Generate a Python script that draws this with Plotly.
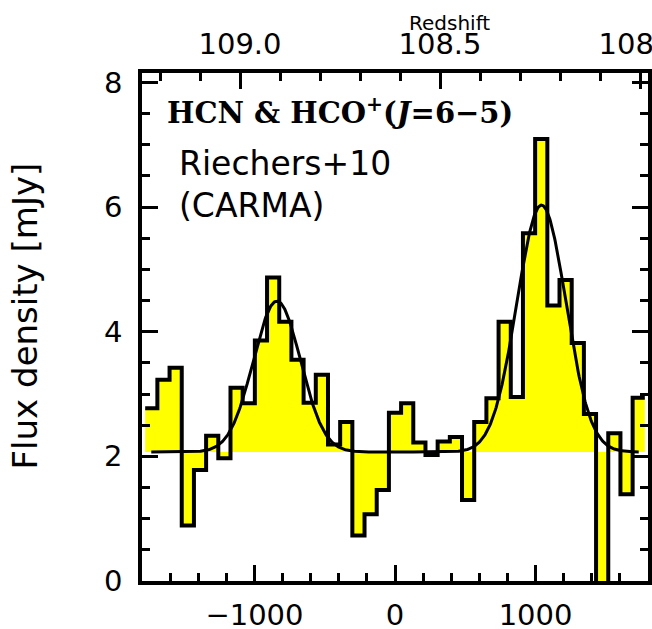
import numpy as np
import plotly.graph_objects as go

# Spectrum: channel grid (km/s) and flux density per channel (mJy)
channel_width = 86.7
channel_index = np.arange(-20, 21)
flux = [2.77, 3.23, 3.42, 0.89, 1.78, 2.33, 1.97, 3.10, 2.85, 3.86,
        4.87, 4.16, 3.55, 2.86, 3.31, 2.19, 2.55, 0.73, 1.07, 1.46,
        2.70, 2.85, 2.22, 2.02, 2.24, 2.31, 1.30, 2.55, 2.93, 4.16,
        2.95, 5.58, 7.09, 4.42, 4.83, 3.82, 2.68, -0.40, 2.37, 1.39,
        2.94]

# Two-Gaussian fit on a flat continuum
continuum = 2.07
line_center = [-840.0, 1042.0]
line_peak = [2.42, 3.96]
line_fwhm = [395.0, 410.0]

# Axis ticks
vel_ticks = [-1000, 0, 1000]
y_ticks = [0, 2, 4, 6, 8]
z_ticks = [109.0, 108.5, 108.0]

velocity = channel_index * channel_width
edges = np.append(velocity - channel_width / 2, velocity[-1] + channel_width / 2)
step_x = np.repeat(edges, 2)[1:-1]
step_y = np.repeat(np.asarray(flux), 2)

v_fit = np.linspace(velocity[0], velocity[-1], 900)
model = np.full_like(v_fit, continuum)
for c, a, w in zip(line_center, line_peak, line_fwhm):
    s = w / (2 * np.sqrt(2 * np.log(2)))
    model += a * np.exp(-0.5 * ((v_fit - c) / s) ** 2)

fig = go.Figure()
# continuum baseline used as the lower edge of the fill
fig.add_trace(go.Scatter(x=[edges[0], edges[-1]], y=[continuum, continuum],
                         mode="lines", line=dict(width=0, color="rgba(0,0,0,0)"),
                         hoverinfo="skip", showlegend=False))
fig.add_trace(go.Scatter(x=step_x, y=step_y, mode="lines", fill="tonexty",
                         fillcolor="#ffff00", line=dict(width=0, color="rgba(0,0,0,0)"),
                         hoverinfo="skip", showlegend=False))
# histogram outline
fig.add_trace(go.Scatter(x=step_x, y=step_y, mode="lines",
                         line=dict(color="black", width=4),
                         showlegend=False))
# fit curve
fig.add_trace(go.Scatter(x=v_fit, y=model, mode="lines",
                         line=dict(color="black", width=3),
                         showlegend=False))
# invisible trace carrying the redshift axis
fig.add_trace(go.Scatter(x=z_ticks, y=[None] * len(z_ticks), xaxis="x2",
                         mode="lines", showlegend=False, hoverinfo="skip"))

tick_font = dict(family="DejaVu Sans", size=29, color="black")

fig.update_layout(
    width=652, height=629,
    margin=dict(l=142, r=4, t=73, b=48, autoexpand=False),
    paper_bgcolor="white", plot_bgcolor="white",
    showlegend=False,
    xaxis=dict(range=[-1800, 1800], tickvals=vel_ticks,
               ticktext=["\u22121000", "0", "1000"],
               ticks="inside", ticklen=16, tickwidth=3, tickcolor="black",
               minor=dict(dtick=200, tick0=0, ticks="inside", ticklen=8,
                          tickwidth=3, tickcolor="black"),
               showline=True, linewidth=3.5, linecolor="black", mirror=False,
               showgrid=False, zeroline=False, tickfont=tick_font,
               ticklabelstandoff=5, automargin=False),
    xaxis2=dict(overlaying="x", side="top", range=[109.245, 107.98],
                tick0=109.0, dtick=0.5, tickformat=".1f",
                ticks="inside", ticklen=16, tickwidth=3, tickcolor="black",
                minor=dict(dtick=0.1, ticks="inside", ticklen=8,
                           tickwidth=3, tickcolor="black"),
                showline=True, linewidth=3.5, linecolor="black",
                showgrid=False, zeroline=False, tickfont=tick_font,
                ticklabelstandoff=4, ticklabeloverflow="allow",
                automargin=False),
    yaxis=dict(range=[0, 8.15], tickvals=y_ticks,
               ticks="inside", ticklen=16, tickwidth=3, tickcolor="black",
               minor=dict(dtick=0.5, tick0=0, ticks="inside", ticklen=8,
                          tickwidth=3, tickcolor="black"),
               showline=True, linewidth=3.5, linecolor="black", mirror="ticks",
               showgrid=False, zeroline=False, tickfont=tick_font,
               ticklabelstandoff=10, automargin=False),
)

fig.add_annotation(xref="paper", yref="paper", x=0.046, y=0.9255,
                   xanchor="left", yanchor="middle", showarrow=False,
                   text="<b>HCN &amp; HCO<sup>+</sup>(<i>J</i>=6\u22125)</b>",
                   font=dict(family="DejaVu Serif", size=29, color="black"))
fig.add_annotation(xref="paper", yref="paper", x=0.069, y=0.8227,
                   xanchor="left", yanchor="middle", showarrow=False,
                   text="Riechers+10",
                   font=dict(family="DejaVu Sans", size=33, color="black"))
fig.add_annotation(xref="paper", yref="paper", x=0.069, y=0.7386,
                   xanchor="left", yanchor="middle", showarrow=False,
                   text="(CARMA)",
                   font=dict(family="DejaVu Sans", size=33, color="black"))
fig.add_annotation(xref="paper", yref="paper", x=-0.232, y=0.522,
                   xanchor="center", yanchor="middle", showarrow=False,
                   textangle=-90, text="Flux density [mJy]",
                   font=dict(family="DejaVu Sans", size=34, color="black"))
fig.add_annotation(xref="paper", yref="paper", x=0.6085, y=1.0985,
                   xanchor="center", yanchor="middle", showarrow=False,
                   text="Redshift",
                   font=dict(family="DejaVu Sans", size=20, color="black"))

fig.write_html("out.html")
